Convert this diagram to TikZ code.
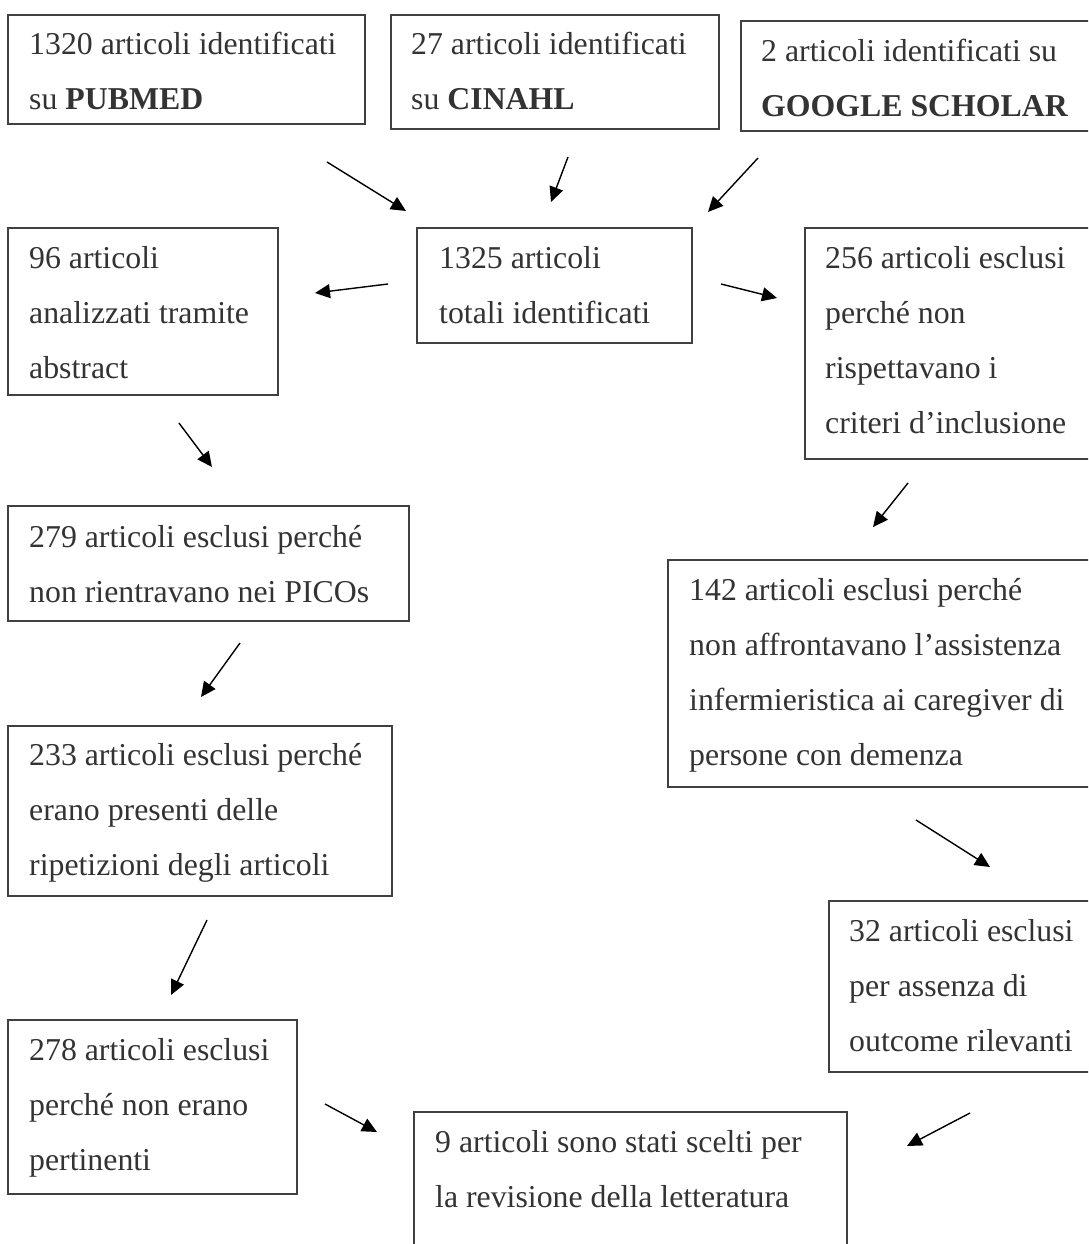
\documentclass[tikz,border=0pt]{standalone}
\usepackage{fontspec}
\setmainfont{Liberation Serif}
\usetikzlibrary{arrows.meta}
\definecolor{txtgray}{HTML}{333333}
\definecolor{boxgray}{HTML}{404040}
\tikzset{
  boxnode/.style={draw=boxgray, line width=1.4pt, rectangle, inner sep=0pt},
  txtnode/.style={anchor=base west, inner sep=0pt, text=txtgray, font=\fontsize{31.8}{55}\selectfont},
  arr/.style={draw=black, line width=1.4pt, -{Triangle[length=15pt,width=14pt]}}
}
\newcommand{\boxat}[5]{%
  \node[boxnode, minimum width={#4-#2}, minimum height={#5-#3}] (#1) at ({(#2+#4)/2},{(#3+#5)/2}) {};}
\newcommand{\lines}[2]{\begin{minipage}[t]{#1pt}\raggedright #2\end{minipage}}
\begin{document}
\begin{tikzpicture}[x=1pt,y=-1pt]
\useasboundingbox (0,0) rectangle (1088,1244);
\clip (0,0) rectangle (1088,1244);
% boxes
\boxat{b1}{8}{15}{365}{124}
\boxat{b2}{391}{15}{719}{129}
\boxat{b3}{741}{21}{1100}{131}
\boxat{b4}{417}{228}{692}{343}
\boxat{b5}{8}{228}{278}{395}
\boxat{b6}{805}{228}{1100}{459}
\boxat{b7}{8}{506}{409}{621}
\boxat{b8}{668}{560}{1100}{787}
\boxat{b9}{8}{726}{392}{896}
\boxat{b10}{829}{901}{1100}{1072}
\boxat{b11}{8}{1020}{297}{1194}
\boxat{b12}{414}{1112}{847}{1270}
% texts
\node[txtnode] (t1) at (29,55) {\lines{340}{1320 articoli identificati\\su \textbf{PUBMED}}};
\node[txtnode] (t2) at (411,55) {\lines{310}{27 articoli identificati\\su \textbf{CINAHL}}};
\node[txtnode] (t3) at (761,62) {\lines{330}{2 articoli identificati su\\\textbf{GOOGLE SCHOLAR}}};
\node[txtnode] (t4) at (439,268) {\lines{260}{1325 articoli\\totali identificati}};
\node[txtnode] (t5) at (29,268) {\lines{260}{96 articoli\\analizzati tramite\\abstract}};
\node[txtnode] (t6) at (825,268) {\lines{270}{256 articoli esclusi\\perché non\\rispettavano i\\criteri d’inclusione}};
\node[txtnode] (t7) at (29,547) {\lines{380}{279 articoli esclusi perché\\non rientravano nei PICOs}};
\node[txtnode] (t8) at (689,600) {\lines{400}{142 articoli esclusi perché\\non affrontavano l’assistenza\\infermieristica ai caregiver di\\persone con demenza}};
\node[txtnode] (t9) at (29,765) {\lines{360}{233 articoli esclusi perché\\erano presenti delle\\ripetizioni degli articoli}};
\node[txtnode] (t10) at (849,941) {\lines{240}{32 articoli esclusi\\per assenza di\\outcome rilevanti}};
\node[txtnode] (t11) at (29,1060) {\lines{270}{278 articoli esclusi\\perché non erano\\pertinenti}};
\node[txtnode] (t12) at (435,1152) {\lines{410}{9 articoli sono stati scelti per\\la revisione della letteratura}};
% arrow end points
\coordinate (a1s) at (327,162);  \coordinate (a1e) at (406,211);
\coordinate (a2s) at (568,157);  \coordinate (a2e) at (551,202);
\coordinate (a3s) at (758,158);  \coordinate (a3e) at (708,212);
\coordinate (a4s) at (388,284);  \coordinate (a4e) at (315,293);
\coordinate (a5s) at (721,284);  \coordinate (a5e) at (777,298);
\coordinate (a6s) at (179,423);  \coordinate (a6e) at (212,467);
\coordinate (a7s) at (908,483);  \coordinate (a7e) at (873,527);
\coordinate (a8s) at (240,643);  \coordinate (a8e) at (201,697);
\coordinate (a9s) at (916,820);  \coordinate (a9e) at (990,867);
\coordinate (a10s) at (207,920); \coordinate (a10e) at (171,995);
\coordinate (a11s) at (325,1104); \coordinate (a11e) at (377,1132);
\coordinate (a12s) at (970,1113); \coordinate (a12e) at (907,1146);
\foreach \i in {1,...,12}{\draw[arr] (a\i s) -- (a\i e);}
\end{tikzpicture}
\end{document}
